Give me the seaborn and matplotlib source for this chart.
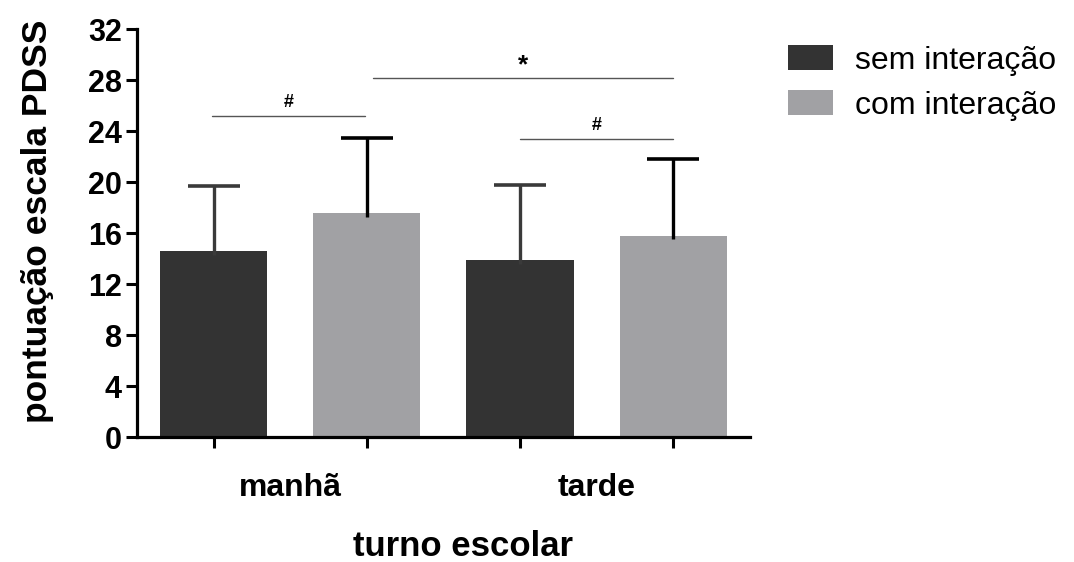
import matplotlib
matplotlib.use("Agg")
import matplotlib.pyplot as plt
import seaborn as sns
import pandas as pd
import numpy as np

# ---- data ----
turnos = ["manhã", "tarde"]
grupos = ["sem interação", "com interação"]
media_sem = [14.6, 13.9]
media_com = [17.6, 15.8]
dp_sem = [5.1, 5.9]
dp_com = [5.9, 6.0]
y_ticks = [0, 4, 8, 12, 16, 20, 24, 28, 32]

df = pd.DataFrame({
    "turno": turnos * 2,
    "grupo": [grupos[0]] * 2 + [grupos[1]] * 2,
    "valor": media_sem + media_com,
})
sds = {grupos[0]: dp_sem, grupos[1]: dp_com}

sns.set_theme(style="white")
plt.rcParams["font.family"] = ["Liberation Sans", "DejaVu Sans"]
plt.rcParams["text.color"] = "black"
plt.rcParams["axes.labelcolor"] = "black"
plt.rcParams["xtick.color"] = "black"
plt.rcParams["ytick.color"] = "black"

cor_escura = "#333333"
cor_clara = "#a1a0a5"
cores_erro = {grupos[0]: "#3a3a3a", grupos[1]: "#000000"}

fig = plt.figure(figsize=(10.74, 5.62), dpi=100)
ax = fig.add_axes([0.1276, 0.2224, 0.5706, 0.7256])

sns.barplot(data=df, x="turno", y="valor", hue="grupo", order=turnos,
            hue_order=grupos, palette=[cor_escura, cor_clara],
            width=1.0, gap=0.3, errorbar=None, ax=ax, legend=True,
            edgecolor="none", linewidth=0)

# error bars (upper only), positions
cap_half = 0.085
centers = []
for cont, g in zip(ax.containers, grupos):
    for bar, sd in zip(cont, sds[g]):
        xc = bar.get_x() + bar.get_width() / 2
        top = bar.get_height()
        centers.append(xc)
        ax.vlines(xc, top - 0.3, top + sd, color=cores_erro[g], lw=2.4, zorder=3)
        ax.hlines(top + sd, xc - cap_half, xc + cap_half, color=cores_erro[g], lw=2.6, zorder=3)

centers = sorted(centers)

# significance brackets
def sig(x1, x2, y, txt, fs, dy):
    ax.plot([x1, x2], [y, y], color="#555555", lw=1.0, clip_on=False)
    ax.text((x1 + x2) / 2, y + dy, txt, ha="center", va="bottom",
            fontsize=fs, fontweight="bold", color="black")

sig(centers[0] - 0.005, centers[1] - 0.005, 25.2, "#", 13, 0.35)
sig(centers[1] + 0.02, centers[3], 28.15, "*", 19, 0.1)
sig(centers[2], centers[3], 23.4, "#", 13, 0.35)

ax.set_xlim(-0.5, 1.5)
ax.set_ylim(0, 32)
ax.set_yticks(y_ticks)
ax.set_yticklabels([str(t) for t in y_ticks], fontsize=22, fontweight="bold")

ax.set_xticks([0, 1])
ax.set_xticklabels(turnos, fontsize=23, fontweight="bold")
ax.set_xticks(centers, minor=True)
ax.tick_params(axis="x", which="major", length=0, pad=26)
ax.tick_params(axis="x", which="minor", length=8, width=2.2, color="black", bottom=True)
ax.tick_params(axis="y", which="major", length=8, width=2.2, color="black", left=True, pad=3)

ax.set_xlabel("turno escolar", fontsize=25, fontweight="bold")
ax.set_ylabel("pontuação escala PDSS", fontsize=25.5, fontweight="bold")
ax.xaxis.set_label_coords(0.532, -0.228)
ax.yaxis.set_label_coords(-0.135, 0.53)

for s in ["top", "right"]:
    ax.spines[s].set_visible(False)
for s in ["left", "bottom"]:
    ax.spines[s].set_linewidth(2.3)
    ax.spines[s].set_color("black")

handles, labels = ax.get_legend_handles_labels()
ax.get_legend().remove()
fig.legend(handles, labels, loc="upper left", bbox_to_anchor=(0.722, 0.943),
           frameon=False, fontsize=23, handlelength=1.4, handleheight=0.85,
           labelspacing=0.45, handletextpad=0.7, borderaxespad=0)

fig.savefig("out.png", dpi=100, facecolor="white")
